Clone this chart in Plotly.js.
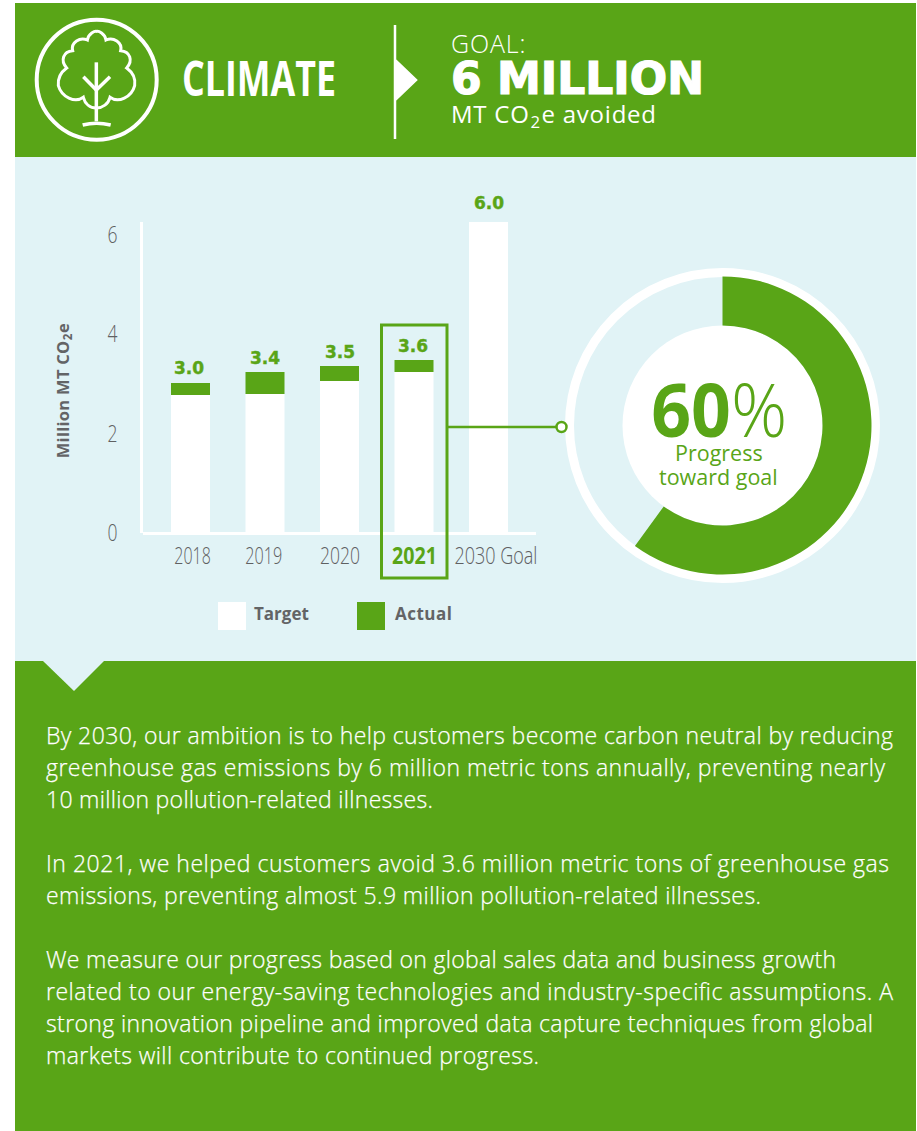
<!DOCTYPE html>
<html><head><meta charset="utf-8">
<script src="https://cdn.plot.ly/plotly-3.0.1.min.js"></script>
<style>html,body{margin:0;padding:0;background:#fff}#c{width:917px;height:1131px}</style>
</head><body><div id="c"></div>
<script>
const categories = ['2018','2019','2020','2021','2030 Goal'];
const tickLabels = ['2018','2019','2020','<b><span style="color:#59a517">2021</span></b>','2030 Goal'];
const targetValues = [2.78,2.80,3.06,3.24,6.26];
const actualValues = [3.02,3.24,3.36,3.48,null];
const valueLabels = ['3.0','3.4','3.5','3.6','6.0'];
const labelTops = [3.02,3.24,3.36,3.48,6.26];
const progressValues = [60,40];
const bodyParagraphs = [
 ['By 2030, our ambition is to help customers become carbon neutral by reducing',
  'greenhouse gas emissions by 6 million metric tons annually, preventing nearly',
  '10 million pollution-related illnesses.'],
 ['In 2021, we helped customers avoid 3.6 million metric tons of greenhouse gas',
  'emissions, preventing almost 5.9 million pollution-related illnesses.'],
 ['We measure our progress based on global sales data and business growth',
  'related to our energy-saving technologies and industry-specific assumptions. A',
  'strong innovation pipeline and improved data capture techniques from global',
  'markets will contribute to continued progress.']
];
const bodyLineWidths = [847,839,387,843,715,790,847,827,493];
const xTickWidths = [36.5,37,40,45,83];

const W=917,H=1131,GREEN='#59a517',LIGHT='#e1f3f6',GRAY='#636466';
const fx=x=>x/W, fy=y=>1-y/H;
const rect=(x0,y0,x1,y1,fill,layer)=>({type:'rect',xref:'paper',yref:'paper',x0:fx(x0),x1:fx(x1),y0:fy(y0),y1:fy(y1),fillcolor:fill,line:{width:0},layer:layer||'below'});
const circ=(cx,cy,r,fill,lc,lw)=>({type:'circle',xref:'paper',yref:'paper',x0:fx(cx-r),x1:fx(cx+r),y0:fy(cy-r),y1:fy(cy+r),fillcolor:fill,line:{color:lc||fill,width:lw||0},layer:'below'});
const pagePath=(d,map)=>d.replace(/(-?[\d.]+)[ ,](-?[\d.]+)/g,(m,a,b)=>{const p=map(+a,+b);return fx(p[0]).toFixed(5)+','+fy(p[1]).toFixed(5);});
const id=(x,y)=>[x,y], icon=(x,y)=>[30+x/3,14+y/3];
const path=(d,map,o)=>Object.assign({type:'path',xref:'paper',yref:'paper',path:pagePath(d,map),layer:'below'},o);
const wl=w=>({color:'#fff',width:w});

const shapes=[
 rect(15,3,916,157,GREEN),
 rect(15,157,916,661,LIGHT),
 rect(15,661,916,1131,GREEN),
 path('M43,661 L104,661 L74,691 Z',id,{fillcolor:LIGHT,line:{width:0}}),
 circ(96.7,79.7,60,'rgba(0,0,0,0)','#fff',4),
 path('M199,282 C180,282 165,270 160,250 C135,268 95,250 85,215 C83,195 92,175 110,162 C90,140 100,112 128,110 C122,85 150,68 172,78 C175,58 195,50 200,52 C205,50 225,58 228,78 C250,68 278,85 272,110 C300,112 310,140 290,162 C308,175 317,195 314,215 C305,250 265,268 240,250 C235,270 218,282 199,282 Z',icon,{line:wl(3),fillcolor:'rgba(0,0,0,0)'}),
 path('M199,145 L199,322',icon,{line:wl(3.5)}),
 path('M160,188 L199,228 L240,188',icon,{line:wl(3.5),fillcolor:'rgba(0,0,0,0)'}),
 path('M158,333 Q199,322 242,333',icon,{line:wl(3.5),fillcolor:'rgba(0,0,0,0)'}),
 path('M395,25 L395,60 L416,80 L395,100 L395,139 L395,100 L395,60 Z',id,{line:wl(2.5),fillcolor:'#fff'}),
 {type:'rect',xref:'paper',yref:'paper',x0:fx(381.5),x1:fx(447),y0:fy(578),y1:fy(325),fillcolor:'rgba(0,0,0,0)',line:{color:GREEN,width:3},layer:'above'},
 {type:'line',xref:'paper',yref:'paper',x0:fx(447),x1:fx(556),y0:fy(427),y1:fy(427),line:{color:GREEN,width:2.5},layer:'above'},
 rect(218,602,246,630,'#fff'),
 rect(357,602,385,630,GREEN),
 circ(722.5,425.5,153,'rgba(0,0,0,0)','#fff',9),
 circ(722.5,425.5,100,'#fff'),
 {type:'circle',xref:'paper',yref:'paper',x0:fx(556.5),x1:fx(566.5),y0:fy(432),y1:fy(422),fillcolor:'#fff',line:{color:GREEN,width:2.5},layer:'above'}
];

const BODY='Open Sans';
const T=(text,x,y,size,color,o)=>{o=o||{};const a=o.anchor||'left';return {xref:'paper',yref:'paper',x:fx(a==='left'?x-2:x),y:fy(y),text:text,showarrow:false,
  xanchor:a,yanchor:'middle',align:a,textangle:o.angle||0,
  font:{family:o.family||BODY,size:size,color:color,weight:o.weight||400}};};

const annotations=[
 T('CLIMATE',182,77,48,'#fff',{weight:700}),
 T('GOAL:',450.5,43,25,'#fff',{weight:300}),
 T('6 MILLION',450.5,78,44,'#fff',{family:'DejaVu Sans',weight:700}),
 T('MT CO<sub>2</sub>e avoided',450.5,115,24,'#fff',{weight:400}),
 T('Million MT CO<sub>2</sub>e',62.5,390.5,16.5,GRAY,{anchor:'center',angle:-90,weight:700}),
 T('Target',254,613.5,17,GRAY,{weight:700}),
 T('Actual',395,613.5,17,GRAY,{weight:700}),
 T('<b>60</b>%',718.5,408,73,GREEN,{anchor:'center',weight:300}),
 T('Progress',718.7,452,21.5,GREEN,{anchor:'center'}),
 T('toward goal',718.5,477,21.5,GREEN,{anchor:'center'})
];
valueLabels.forEach((t,i)=>annotations.push({xref:'x',yref:'y',x:i,y:labelTops[i],yanchor:'bottom',yshift:i===4?7:2.5,xshift:i===0?-2:(i===3?-1:0),showarrow:false,text:t,
  font:{family:'DejaVu Sans',size:17,color:GREEN,weight:700}}));
let ly=735;
bodyParagraphs.forEach(par=>{par.forEach(line=>{annotations.push(T(line,46,ly,23,'#fff',{weight:300}));ly+=32;});ly+=32;});

const traces=[
 {type:'bar',name:'Target',x:categories,y:targetValues,width:39/74.5,marker:{color:'#fff',line:{width:0}},hoverinfo:'x+y'},
 {type:'bar',name:'Actual',x:categories,base:targetValues,y:actualValues.map((v,i)=>v===null?null:v-targetValues[i]),width:39/74.5,marker:{color:GREEN,line:{width:0}},hoverinfo:'x'},
 {type:'pie',values:progressValues,labels:['Progress','Remaining'],hole:100/149,sort:false,direction:'clockwise',rotation:0,
  marker:{colors:[GREEN,'rgba(0,0,0,0)'],line:{width:0}},textinfo:'none',hoverinfo:'label+percent',showlegend:false,
  domain:{x:[fx(722.5-149),fx(722.5+149)],y:[fy(425.5+149),fy(425.5-149)]}}
];
const tickFont={family:'Open Sans',size:23,color:'#5f6062',weight:300};
const layout={width:W,height:H,margin:{l:0,r:0,t:0,b:0},paper_bgcolor:'#fff',plot_bgcolor:'rgba(0,0,0,0)',showlegend:false,barmode:'overlay',
 xaxis:{domain:[fx(143),fx(536)],type:'category',categoryorder:'array',categoryarray:categories,range:[(143-190.5)/74.5,(536-190.5)/74.5],
   tickmode:'array',tickvals:[0.027,0.984,2.007,3.008,4.1],ticktext:tickLabels,ticks:'',showgrid:false,zeroline:false,showline:false,
   ticklabelstandoff:7,tickfont:tickFont,fixedrange:true},
 yaxis:{domain:[fy(533),fy(222)],range:[0,6.26],tickmode:'array',tickvals:[0,2,4,6],ticktext:['0','2','4','6'],ticks:'',showgrid:false,zeroline:true,zerolinecolor:'#fff',zerolinewidth:3,showline:true,linecolor:'#fff',linewidth:3,
   ticklabelstandoff:18,tickfont:tickFont,fixedrange:true},
 shapes:shapes,annotations:annotations};

// squeeze or space text to the widths measured on the reference
const fit=(el,w,glyphs)=>{el.setAttribute('textLength',w);if(glyphs)el.setAttribute('lengthAdjust','spacingAndGlyphs');};
const thicken=(el,c,w)=>{el.style.stroke=c;el.style.strokeWidth=w+'px';};
Plotly.newPlot('c',traces,layout,{displayModeBar:false}).then(gd=>{
  const flat=bodyParagraphs.flat();
  gd.querySelectorAll('.annotation-text').forEach(el=>{
    const s=el.textContent, i=flat.indexOf(s);
    if(i>=0){fit(el,bodyLineWidths[i],false);thicken(el,'#fff',0.25);}
    if(s==='CLIMATE') fit(el,154,true);
    if(s==='GOAL:') fit(el,74.5,false);
    if(s==='6 MILLION'){fit(el,253,true);thicken(el,'#fff',1.2);}
    if(s.includes('avoided')) fit(el,205,false);
    if(s.startsWith('Million')) fit(el,135,false);
    if(s==='Actual') fit(el,57,false);
    if(s.startsWith('60')) fit(el,136,true);
    if(valueLabels.includes(s)) thicken(el,GREEN,0.4);
  });
  gd.querySelectorAll('.xtick text').forEach((el,i)=>fit(el,xTickWidths[i],true));
  gd.querySelectorAll('.ytick text').forEach(el=>fit(el,10,true));
});
</script></body></html>
